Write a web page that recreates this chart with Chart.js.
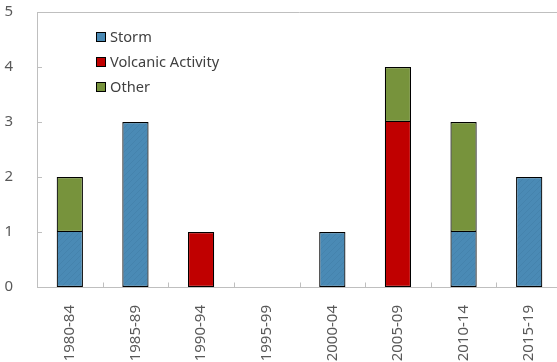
<!DOCTYPE html>
<html>
<head>
<meta charset="utf-8">
<script src="https://cdn.jsdelivr.net/npm/chart.js@4.4.1/dist/chart.umd.min.js"></script>
<style>
  html, body { margin: 0; padding: 0; background: #fff; overflow: hidden; }
  #wrap { width: 563px; height: 362px; }
</style>
</head>
<body>
<div id="wrap"><canvas id="chart" width="563" height="362"></canvas></div>
<script>
// Number of events per five-year period, by cause
const periods = ['1980-84', '1985-89', '1990-94', '1995-99', '2000-04', '2005-09', '2010-14', '2015-19'];
const storm = [1, 3, 0, 0, 1, 0, 1, 2];
const volcanic = [0, 0, 1, 0, 0, 3, 0, 0];
const other = [1, 0, 0, 0, 0, 1, 2, 0];
const seriesNames = ['Storm', 'Volcanic Activity', 'Other'];
const yTicks = [0, 1, 2, 3, 4, 5];

const FONT = "'Noto Sans', 'Open Sans', sans-serif";
const AXIS_GREY = '#bfbfbf';
const TEXT_GREY = '#595959';

// faint diagonal texture on the blue fill
function stripePattern(base, line) {
  const c = document.createElement('canvas');
  c.width = 6; c.height = 6;
  const g = c.getContext('2d');
  g.fillStyle = base; g.fillRect(0, 0, 6, 6);
  g.strokeStyle = line; g.lineWidth = 1;
  g.beginPath();
  g.moveTo(0, 6); g.lineTo(6, 0);
  g.moveTo(-3, 3); g.lineTo(3, -3);
  g.moveTo(3, 9); g.lineTo(9, 3);
  g.stroke();
  return g.createPattern(c, 'repeat');
}

const stormFill = stripePattern('#4a8ab5', '#4583ad');

// plot frame: top line, base line and inward tick marks
const framePlugin = {
  id: 'frame',
  beforeDatasetsDraw(chart) {
    const { ctx, chartArea: a, scales } = chart;
    ctx.save();
    ctx.strokeStyle = AXIS_GREY;
    ctx.lineWidth = 1;
    ctx.beginPath();
    const top = Math.round(a.top) + 0.5;
    const bottom = Math.round(a.bottom) + 0.5;
    ctx.moveTo(a.left, top); ctx.lineTo(a.right, top);
    ctx.moveTo(a.left, bottom); ctx.lineTo(a.right, bottom);
    scales.y.ticks.forEach(t => {
      const py = Math.round(scales.y.getPixelForValue(t.value)) + 0.5;
      ctx.moveTo(a.left, py); ctx.lineTo(a.left + 5, py);
    });
    const n = periods.length;
    const step = (a.right - a.left) / n;
    for (let i = 1; i < n; i++) {
      const px = Math.round(a.left + i * step) + 0.5;
      ctx.moveTo(px, bottom); ctx.lineTo(px, bottom - 5);
    }
    ctx.stroke();
    ctx.restore();
  },
  // legend inside the plot, upper left
  afterDraw(chart) {
    const { ctx } = chart;
    ctx.save();
    ctx.font = '14.6px ' + FONT;
    ctx.textBaseline = 'middle';
    chart.data.datasets.forEach((ds, i) => {
      const cy = 37 + i * 25;
      ctx.fillStyle = ds.legendColor;
      ctx.fillRect(96.5, cy - 4.5, 9, 9);
      ctx.strokeStyle = '#000';
      ctx.lineWidth = 1;
      ctx.strokeRect(96.5, cy - 4.5, 9, 9);
      ctx.fillStyle = '#404040';
      ctx.fillText(ds.label, 110, cy + 0.5);
    });
    ctx.restore();
  }
};

// a segment with another segment stacked on it leaves its top edge
// to the upper segment, so shared edges stay one line thick
function segmentBorder(c) {
  const sets = c.chart.data.datasets;
  let covered = false;
  for (let k = c.datasetIndex + 1; k < sets.length; k++) {
    if (sets[k].data[c.dataIndex] > 0) covered = true;
  }
  return { top: covered ? 0 : 1.2, bottom: 1.2, left: 1.2, right: 1.2 };
}

const barStyle = {
  borderColor: '#000',
  borderWidth: segmentBorder,
  borderSkipped: false,
  categoryPercentage: 0.4,
  barPercentage: 1
};

new Chart(document.getElementById('chart'), {
  type: 'bar',
  data: {
    labels: periods,
    datasets: [
      { label: seriesNames[0], data: storm, backgroundColor: stormFill, legendColor: '#4a8ab5', ...barStyle },
      { label: seriesNames[1], data: volcanic, backgroundColor: '#c00000', legendColor: '#c00000', ...barStyle },
      { label: seriesNames[2], data: other, backgroundColor: '#77933c', legendColor: '#77933c', ...barStyle }
    ]
  },
  options: {
    responsive: false,
    animation: false,
    devicePixelRatio: 1,
    layout: { padding: { top: 0, right: 1, left: 0, bottom: 0 } },
    plugins: { legend: { display: false }, tooltip: { enabled: false } },
    scales: {
      x: {
        stacked: true,
        grid: { display: false },
        border: { display: true, color: AXIS_GREY, width: 1 },
        ticks: {
          autoSkip: false, minRotation: 90, maxRotation: 90, padding: 10,
          color: TEXT_GREY, font: { family: FONT, size: 15 }
        },
        afterFit(s) { s.height = 75; s.paddingLeft = 0; s.paddingRight = 0; }
      },
      y: {
        stacked: true,
        min: yTicks[0],
        max: yTicks[yTicks.length - 1],
        afterBuildTicks(s) { s.ticks = yTicks.map(v => ({ value: v })); },
        grid: { display: false },
        border: { display: true, color: AXIS_GREY, width: 1 },
        ticks: { padding: 16, color: TEXT_GREY, font: { family: FONT, size: 15 } },
        afterFit(s) { s.width = 37; s.paddingTop = 12; s.paddingBottom = 0; }
      }
    }
  },
  plugins: [framePlugin]
});
</script>
</body>
</html>
